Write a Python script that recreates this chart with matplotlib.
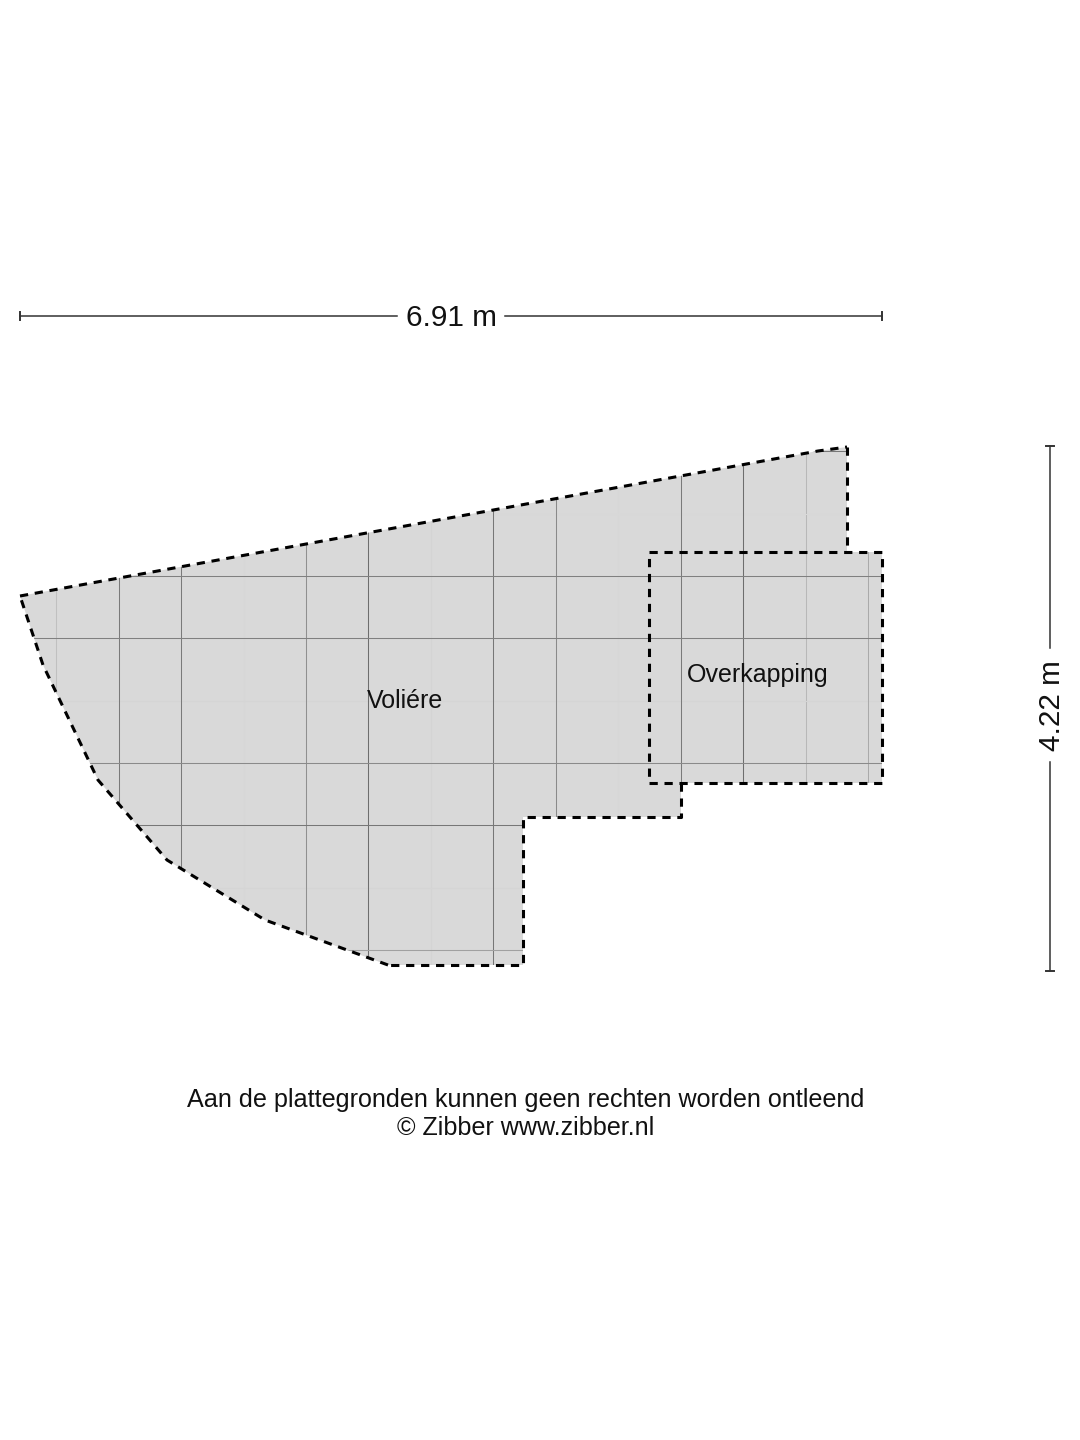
import matplotlib
matplotlib.use('Agg')
import matplotlib.pyplot as plt
from matplotlib.patches import Polygon

plt.rcParams['font.family'] = ['Liberation Sans', 'DejaVu Sans']

# outline of the floor plan in pixels
top_edge = [(20, 596), (818, 451), (847, 447)]
right_edge = [(847, 447), (847, 552)]
notch = [(681, 783), (681, 817), (523, 817), (523, 965), (388, 965)]
curve = [(388, 965), (265, 920), (167, 860), (98, 780), (43, 665), (20, 596)]
roof = [(649, 552), (882, 552), (882, 783), (649, 783), (649, 552)]
fill_shape = top_edge + [(847, 552), (882, 552), (882, 783)] + notch + curve[1:]

# grid lines: position and grey level
grid_x = [56, 119, 181, 244, 306, 368, 431, 493, 556, 618, 681, 743, 806, 868]
grid_x_col = ['#c0c0c0', '#7a7a7a', '#7a7a7a', '#d7d7d7', '#909090', '#6e6e6e', '#d4d4d4',
              '#777777', '#8a8a8a', '#d7d7d7', '#7a7a7a', '#6e6e6e', '#b8b8b8', '#aaaaaa']
grid_y = [451, 514, 576, 638, 701, 763, 825, 888, 950]
grid_y_col = ['#777777', '#d8d8d8', '#808080', '#808080', '#d5d5d5', '#8a8a8a', '#777777', '#d5d5d5', '#a0a0a0']

dim_width = '6.91 m'
dim_height = '4.22 m'
rooms = [('Voliére', 405, 701), ('Overkapping', 758, 675)]
footer = ['Aan de plattegronden kunnen geen rechten worden ontleend', '© Zibber www.zibber.nl']

fig = plt.figure(figsize=(10.8, 14.4), dpi=100)
ax = fig.add_axes([0, 0, 1, 1])
ax.set_xlim(0, 1080)
ax.set_ylim(1440, 0)
ax.axis('off')

shape = Polygon(fill_shape, closed=True, facecolor='#d9d9d9', edgecolor='none', zorder=1)
ax.add_patch(shape)

# pale lines go underneath so they do not cut the dark ones
for x, c in zip(grid_x, grid_x_col):
    z = 2 if c > '#b00000' else 2.5
    l, = ax.plot([x, x], [400, 1000], color=c, lw=0.75, zorder=z)
    l.set_clip_path(shape)
for y, c in zip(grid_y, grid_y_col):
    z = 2 if c > '#b00000' else 2.5
    l, = ax.plot([0, 900], [y, y], color=c, lw=0.75, zorder=z)
    l.set_clip_path(shape)


def dashed(points, lw=2.2, dash=(2.7, 2.2)):
    xs = [p[0] for p in points]
    ys = [p[1] for p in points]
    ax.plot(xs, ys, color='black', lw=lw, linestyle=(0, dash), dash_capstyle='butt',
            dash_joinstyle='round', zorder=3)


dashed(top_edge)
dashed(right_edge)
dashed(notch)
dashed(curve)
dashed(roof)

for name, x, y in rooms:
    ax.text(x, y, name, fontsize=18, ha='center', va='center', color='#111111', zorder=4)

# dimension lines
line_col = '#333333'
ax.plot([20, 397], [316, 316], color=line_col, lw=1.1)
ax.plot([505, 882], [316, 316], color=line_col, lw=1.1)
ax.plot([20, 20], [312, 320], color=line_col, lw=1.4)
ax.plot([882, 882], [312, 320], color=line_col, lw=1.4)
ax.text(451, 318, dim_width, fontsize=21.4, ha='center', va='center', color='#111111')

ax.plot([1050, 1050], [446, 648], color=line_col, lw=1.1)
ax.plot([1050, 1050], [762, 971], color=line_col, lw=1.1)
ax.plot([1046, 1054], [446, 446], color=line_col, lw=1.4)
ax.plot([1046, 1054], [971, 971], color=line_col, lw=1.4)
ax.text(1052, 706, dim_height, fontsize=21.4, ha='center', va='center', rotation=90, color='#111111')

ax.text(525.5, 1100, footer[0], fontsize=18.13, ha='center', va='center', color='#111111')
ax.text(525.5, 1128, footer[1], fontsize=18.13, ha='center', va='center', color='#111111')

fig.savefig('out.png', dpi=100)
